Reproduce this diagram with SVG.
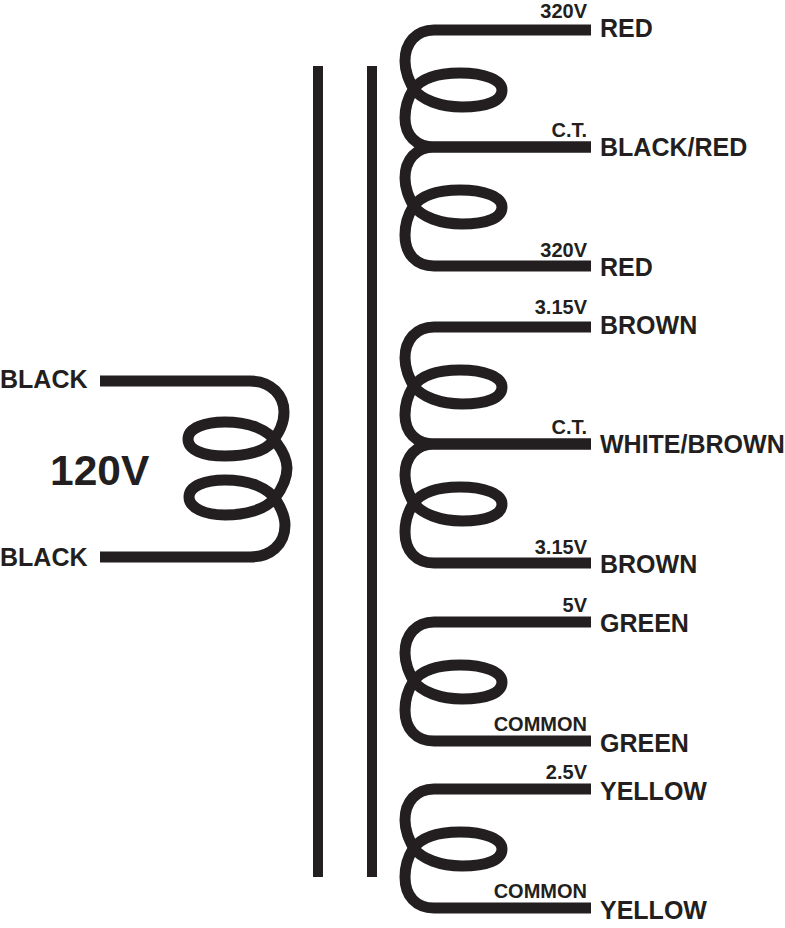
<svg xmlns="http://www.w3.org/2000/svg" width="785" height="928" viewBox="0 0 785 928">
<style>
.w{fill:none;stroke:#231f20;stroke-width:11}
text{font-family:"Liberation Sans",Arial,sans-serif;font-weight:bold;fill:#231f20}
.l{font-size:25px}
.s{font-size:20px;text-anchor:end}
.v{font-size:42.5px}
</style>
<defs>
<path id="half" class="w" d="M591 0H434C416 0 405 13 405 31C405 42 409 50 413 58C421 70 441 77 462 77C487 77 502 71 502 60C502 50 485 43 460 43C438 43 421 48 413 60C408 68 405 76 405 88C405 105 416 117 434 117H591"/>
<path id="half2" class="w" d="M591 0H434C416 0 405 13 405 31C405 42 409 50 413 58C421 70 441 77 462 77C487 77 502 71 502 60C502 50 485 43 460 43C438 43 421 48 413 60C408 68 405 76 405 88C405 107 416 119 434 119H591"/>
</defs>
<g id="connectors">
<path class="w" d="M100 381H250C272 381 284 396 284 412C284 424 279 432 273 441C265 452 245 456 225 456C203 456 188 450 188 439C188 428 205 422 225 422C250 422 268 430 276 442C282 450 287 458 287 468C287 480 281 490 275 498C265 510 245 515 225 515C205 515 189 508 189 497C189 486 205 480 225 480C250 480 268 488 276 500C281 508 285 516 285 525C285 545 270 557 250 557H100"/>
<use href="#half" y="30"/>
<use href="#half2" y="147"/>
<use href="#half" y="327"/>
<use href="#half2" y="444"/>
<use href="#half2" y="622"/>
<use href="#half2" y="789"/>
</g>
<g id="core">
<rect x="313" y="66" width="10" height="811" fill="#231f20"/>
<rect x="367" y="66" width="10" height="811" fill="#231f20"/>
</g>
<g id="primary">
<text class="l" x="0" y="388">BLACK</text>
<text class="l" x="0" y="566">BLACK</text>
<text class="v" x="50" y="485">120V</text>
</g>
<g id="secondary-hv">
<text class="s" x="587" y="18">320V</text>
<text class="l" x="600" y="37">RED</text>
<text class="s" x="587" y="137">C.T.</text>
<text class="l" x="600" y="156">BLACK/RED</text>
<text class="s" x="587" y="257">320V</text>
<text class="l" x="600" y="276">RED</text>
</g>
<g id="secondary-315">
<text class="s" x="587" y="314">3.15V</text>
<text class="l" x="600" y="334">BROWN</text>
<text class="s" x="587" y="434">C.T.</text>
<text class="l" x="600" y="453">WHITE/BROWN</text>
<text class="s" x="587" y="554">3.15V</text>
<text class="l" x="600" y="573">BROWN</text>
</g>
<g id="secondary-5">
<text class="s" x="587" y="612">5V</text>
<text class="l" x="600" y="632">GREEN</text>
<text class="s" x="587" y="731">COMMON</text>
<text class="l" x="600" y="752">GREEN</text>
</g>
<g id="secondary-25">
<text class="s" x="587" y="779">2.5V</text>
<text class="l" x="600" y="800">YELLOW</text>
<text class="s" x="587" y="898">COMMON</text>
<text class="l" x="600" y="919">YELLOW</text>
</g>
</svg>
